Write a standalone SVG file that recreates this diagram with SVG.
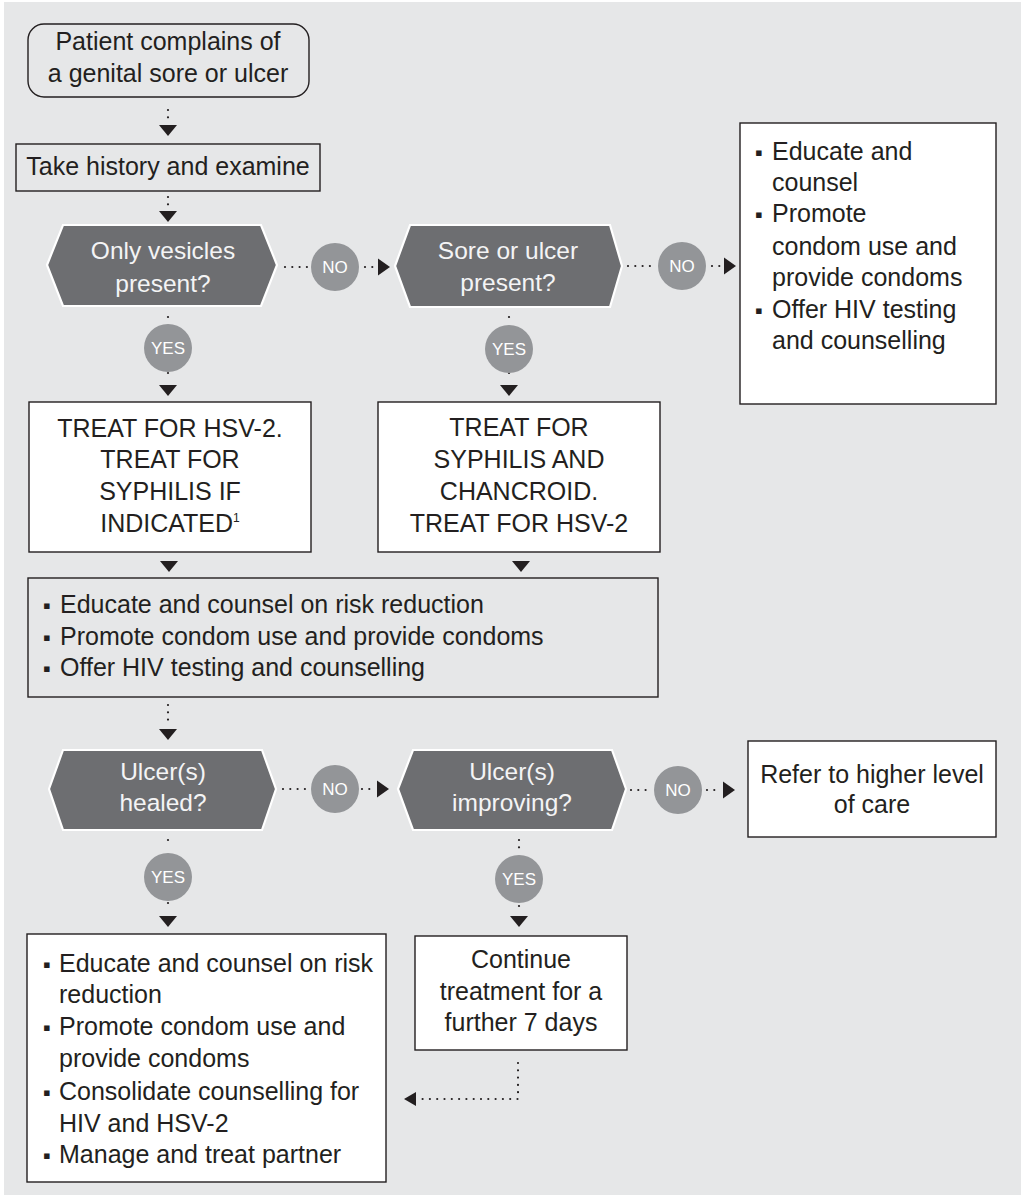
<svg xmlns="http://www.w3.org/2000/svg" xmlns:xlink="http://www.w3.org/1999/xlink" width="1021" height="1195" viewBox="0 0 1021 1195">
<style>
text{font-family:"Liberation Sans",Arial,sans-serif;fill:#231f20;font-size:25px}
.c{text-anchor:middle}
.box{fill:#ffffff;stroke:#231f20;stroke-width:1.4}
.boxg{fill:none;stroke:#231f20;stroke-width:1.4}
.hex{fill:#6d6e71;stroke:#ffffff;stroke-width:2.2;stroke-linejoin:miter}
.ht{fill:#f4f4f5;font-size:24.5px;text-anchor:middle}
.dot{fill:none;stroke:#231f20;stroke-width:2.2;stroke-dasharray:0 7.3;stroke-linecap:round}
.ah{fill:#231f20}
.lab circle{fill:#939598}
.lab text{fill:#ffffff;font-size:17px;text-anchor:middle}
.b{font-size:22px}
</style>
<defs>
<path id="ahD" class="ah" d="M-9,0 L9,0 L0,11 Z"/>
<path id="ahR" class="ah" d="M0,-8.5 L12,0 L0,8.5 Z"/>
<path id="ahL" class="ah" d="M0,0 L12,-7 L12,7 Z"/>
</defs>
<rect x="4" y="2" width="1017" height="1193" fill="#e6e7e8"/>

<g id="connectors">
<line class="dot" x1="168" y1="110" x2="168" y2="118"/>
<use xlink:href="#ahD" x="168" y="125"/>
<line class="dot" x1="168" y1="197" x2="168" y2="205"/>
<use xlink:href="#ahD" x="168" y="211"/>
<line class="dot" x1="285" y1="267" x2="307" y2="267"/>
<line class="dot" x1="365" y1="267" x2="373" y2="267"/>
<use xlink:href="#ahR" x="378" y="267"/>
<line class="dot" x1="628" y1="266" x2="650" y2="266"/>
<line class="dot" x1="712" y1="266" x2="720" y2="266"/>
<use xlink:href="#ahR" x="724" y="266"/>
<line class="dot" x1="168" y1="317" x2="168" y2="318"/>
<line class="dot" x1="168" y1="373" x2="168" y2="380"/>
<use xlink:href="#ahD" x="168" y="385"/>
<line class="dot" x1="509" y1="317" x2="509" y2="318"/>
<line class="dot" x1="509" y1="373" x2="509" y2="380"/>
<use xlink:href="#ahD" x="509" y="385"/>
<use xlink:href="#ahD" x="169" y="561"/>
<use xlink:href="#ahD" x="521" y="561"/>
<line class="dot" x1="168" y1="705" x2="168" y2="720"/>
<use xlink:href="#ahD" x="168" y="729"/>
<line class="dot" x1="283" y1="789" x2="305" y2="789"/>
<line class="dot" x1="362" y1="789" x2="370" y2="789"/>
<use xlink:href="#ahR" x="377" y="789"/>
<line class="dot" x1="631" y1="790" x2="646" y2="790"/>
<line class="dot" x1="707" y1="790" x2="715" y2="790"/>
<use xlink:href="#ahR" x="723" y="790"/>
<line class="dot" x1="168" y1="840" x2="168" y2="841"/>
<line class="dot" x1="168" y1="903" x2="168" y2="910"/>
<use xlink:href="#ahD" x="168" y="916"/>
<line class="dot" x1="519" y1="840" x2="519" y2="848"/>
<line class="dot" x1="519" y1="906" x2="519" y2="912"/>
<use xlink:href="#ahD" x="519" y="916"/>
<polyline class="dot" points="518,1063 518,1099 418,1099"/>
<use xlink:href="#ahL" x="404" y="1099"/>
<g class="lab"><circle cx="335" cy="267" r="24"/><text x="335" y="273">NO</text></g>
<g class="lab"><circle cx="682" cy="266" r="24"/><text x="682" y="272">NO</text></g>
<g class="lab"><circle cx="168" cy="348" r="24"/><text x="168" y="354">YES</text></g>
<g class="lab"><circle cx="509" cy="349" r="24"/><text x="509" y="355">YES</text></g>
<g class="lab"><circle cx="335" cy="789" r="24"/><text x="335" y="795">NO</text></g>
<g class="lab"><circle cx="678" cy="790" r="24"/><text x="678" y="796">NO</text></g>
<g class="lab"><circle cx="168" cy="877" r="24"/><text x="168" y="883">YES</text></g>
<g class="lab"><circle cx="519" cy="879" r="24"/><text x="519" y="885">YES</text></g>
</g>

<g id="start">
<rect class="boxg" x="28" y="24" width="281" height="73" rx="16"/>
<text class="c" x="168" y="50">Patient complains of</text>
<text class="c" x="168" y="82">a genital sore or ulcer</text>
</g>

<g id="history">
<rect class="boxg" x="16" y="144" width="304" height="47"/>
<text class="c" x="168" y="175">Take history and examine</text>
</g>

<g id="q-vesicles">
<polygon class="hex" points="47,265 63,225 261,225 277,265 261,306 63,306"/>
<text class="ht" x="163" y="259">Only vesicles</text>
<text class="ht" x="163" y="292">present?</text>
</g>

<g id="q-sore">
<polygon class="hex" points="395,266 410,225 610,225 622,266 610,307 410,307"/>
<text class="ht" x="508" y="259">Sore or ulcer</text>
<text class="ht" x="508" y="291">present?</text>
</g>

<g id="educate-top">
<rect class="box" x="740" y="123" width="256" height="281"/>
<text x="755" y="160"><tspan class="b">▪</tspan><tspan x="772">Educate and</tspan></text>
<text x="772" y="191">counsel</text>
<text x="755" y="222"><tspan class="b">▪</tspan><tspan x="772">Promote</tspan></text>
<text x="772" y="255">condom use and</text>
<text x="772" y="286">provide condoms</text>
<text x="755" y="318"><tspan class="b">▪</tspan><tspan x="772">Offer HIV testing</tspan></text>
<text x="772" y="349">and counselling</text>
</g>

<g id="treat-hsv">
<rect class="box" x="29" y="402" width="282" height="150"/>
<text class="c" x="170" y="437">TREAT FOR HSV-2.</text>
<text class="c" x="170" y="468">TREAT FOR</text>
<text class="c" x="170" y="500">SYPHILIS IF</text>
<text class="c" x="170" y="532">INDICATED<tspan style="font-size:12px" dy="-10">1</tspan></text>
</g>

<g id="treat-syphilis">
<rect class="box" x="378" y="402" width="282" height="150"/>
<text class="c" x="519" y="436">TREAT FOR</text>
<text class="c" x="519" y="468">SYPHILIS AND</text>
<text class="c" x="519" y="500">CHANCROID.</text>
<text class="c" x="519" y="532">TREAT FOR HSV-2</text>
</g>

<g id="educate-mid">
<rect class="boxg" x="28" y="578" width="630" height="119"/>
<text x="43" y="613"><tspan class="b">▪</tspan><tspan x="60">Educate and counsel on risk reduction</tspan></text>
<text x="43" y="645"><tspan class="b">▪</tspan><tspan x="60">Promote condom use and provide condoms</tspan></text>
<text x="43" y="676"><tspan class="b">▪</tspan><tspan x="60">Offer HIV testing and counselling</tspan></text>
</g>

<g id="q-healed">
<polygon class="hex" points="49,789 63,750 262,750 276,789 262,830 63,830"/>
<text class="ht" x="163" y="780">Ulcer(s)</text>
<text class="ht" x="163" y="811">healed?</text>
</g>

<g id="q-improving">
<polygon class="hex" points="398,789 413,750 612,750 626,789 612,830 413,830"/>
<text class="ht" x="512" y="780">Ulcer(s)</text>
<text class="ht" x="512" y="811">improving?</text>
</g>

<g id="refer">
<rect class="box" x="748" y="741" width="248" height="96"/>
<text class="c" x="872" y="783">Refer to higher level</text>
<text class="c" x="872" y="813">of care</text>
</g>

<g id="educate-bottom">
<rect class="box" x="27" y="934" width="359" height="248"/>
<text x="43" y="972"><tspan class="b">▪</tspan><tspan x="59">Educate and counsel on risk</tspan></text>
<text x="59" y="1003">reduction</text>
<text x="43" y="1035"><tspan class="b">▪</tspan><tspan x="59">Promote condom use and</tspan></text>
<text x="59" y="1067">provide condoms</text>
<text x="43" y="1100"><tspan class="b">▪</tspan><tspan x="59">Consolidate counselling for</tspan></text>
<text x="59" y="1132">HIV and HSV-2</text>
<text x="43" y="1163"><tspan class="b">▪</tspan><tspan x="59">Manage and treat partner</tspan></text>
</g>

<g id="continue">
<rect class="box" x="415" y="936" width="212" height="114"/>
<text class="c" x="521" y="968">Continue</text>
<text class="c" x="521" y="1000">treatment for a</text>
<text class="c" x="521" y="1031">further 7 days</text>
</g>
</svg>
